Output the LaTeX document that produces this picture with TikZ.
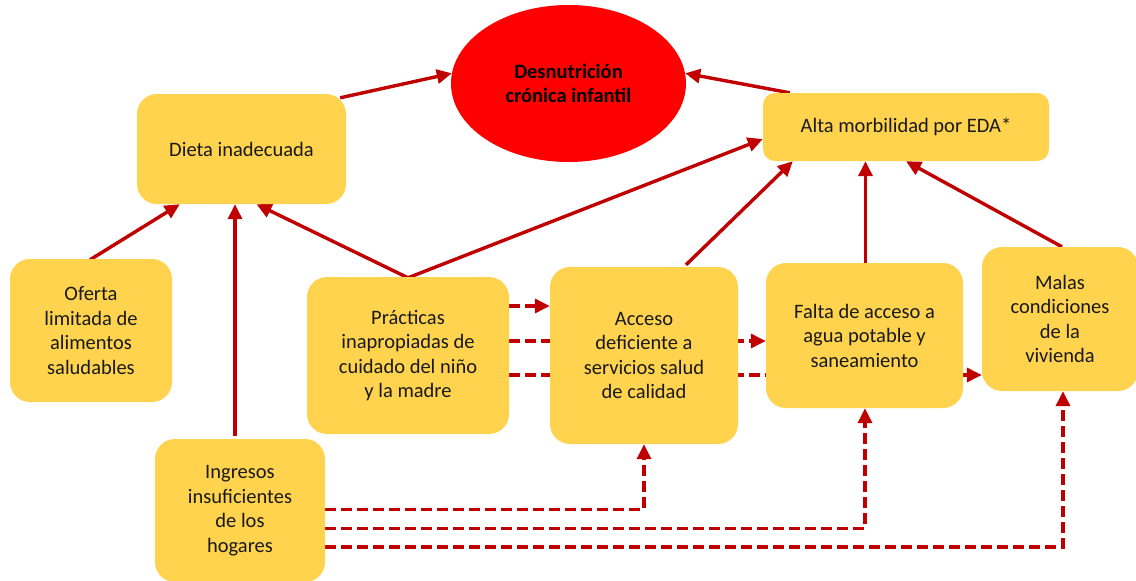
\documentclass[tikz,border=0pt]{standalone}
\usepackage{fontspec}
\setmainfont{Carlito}
\usetikzlibrary{arrows.meta,backgrounds,shapes.geometric,calc}
\definecolor{boxy}{HTML}{FFD34E}
\definecolor{arr}{HTML}{C00000}
\definecolor{ellred}{HTML}{FF0000}
\begin{document}
\begin{tikzpicture}[x=1pt,y=-1pt,
  box/.style={fill=boxy, rounded corners=20pt, align=center, inner sep=0pt,
    font=\fontsize{20.5}{24.5}\selectfont, text=black!90},
  link/.style={draw=arr, line width=3.4pt, -{Triangle[length=15pt,width=14pt]}},
  dlink/.style={link, dash pattern=on 11pt off 5pt},
  dline/.style={draw=arr, line width=3.4pt, dash pattern=on 11pt off 5pt}]
\useasboundingbox (0,0) rectangle (1136,581);

\node[ellipse, fill=ellred, minimum width=235pt, minimum height=157pt, inner sep=0pt, align=center,
  font=\fontsize{20.5}{24.5}\selectfont\bfseries] (ell) at (568.5,83.5) {Desnutrición\\crónica infantil};
\node[box, minimum width=209pt, minimum height=110pt] (dieta) at (241.5,149) {Dieta inadecuada};
\node[box, rounded corners=12pt, minimum width=286pt, minimum height=68pt] (alta) at (906,127) {Alta morbilidad por EDA*};
\node[box, minimum width=162pt, minimum height=143pt] (oferta) at (91,330.5) {Oferta\\limitada de\\alimentos\\saludables};
\node[box, minimum width=202pt, minimum height=157pt] (prac) at (408,355.5) {Prácticas\\inapropiadas de\\cuidado del niño\\y la madre};
\node[box, minimum width=188pt, minimum height=177pt] (acceso) at (644,355.5) {Acceso\\deficiente a\\servicios salud\\de calidad};
\node[box, minimum width=197pt, minimum height=145pt] (falta) at (864.5,335.5) {Falta de acceso a\\agua potable y\\saneamiento};
\node[box, minimum width=156pt, minimum height=144pt] (malas) at (1060,319) {Malas\\condiciones\\de la\\vivienda};
\node[box, minimum width=170pt, minimum height=143pt] (ingresos) at (240,510.5) {Ingresos\\insuficientes\\de los\\hogares};

\begin{scope}[on background layer]
  % solid arrows
  \draw[link] ($(dieta.north east)+(-6,4)$) -- (ell.175);
  \draw[link] ($(alta.north west)+(27,0)$) -- (ell.5);
  \draw[link] ($(oferta.north)+(-1,1)$) -- ($(dieta.south west)+(43,0)$);
  \draw[link] ($(ingresos.north)+(-5,-3)$) -- ($(dieta.south)+(-6.5,0)$);
  \draw[link] ($(prac.north)+(0,1)$) -- ($(dieta.south)+(15,0)$);
  \draw[link] ($(prac.north)+(0,1)$) -- ($(alta.west)+(0,12)$);
  \draw[link] ($(acceso.north)+(42,-2)$) -- ($(alta.south west)+(30,0)$);
  \draw[link] ($(falta.north)+(1,0)$) -- ($(alta.south)+(-40.5,0)$);
  \draw[link] ($(malas.north)+(2,0)$) -- (alta.south);
  % dashed arrows from Prácticas
  \coordinate (pa) at ($(prac.east)+(0,-49.5)$);
  \coordinate (pb) at ($(prac.east)+(0,-14.5)$);
  \coordinate (pc) at ($(prac.east)+(0,19.5)$);
  \draw[dlink] (pa) -- (pa -| acceso.west);
  \draw[dlink] (pb) -- (pb -| falta.west);
  \draw[dlink] (pc) -- (pc -| malas.west);
  % dashed arrows from Ingresos
  \coordinate (ia) at ($(ingresos.east)+(0,-1)$);
  \coordinate (ib) at ($(ingresos.east)+(0,18)$);
  \coordinate (ic) at ($(ingresos.east)+(0,36.5)$);
  \draw[dlink] (ia) -| (acceso.south);
  \draw[dlink] (ib) -| ($(falta.south)+(0.5,0)$);
  \draw[dlink] (ic) -| ($(malas.south)+(3,0)$);
\end{scope}
\end{tikzpicture}
\end{document}
